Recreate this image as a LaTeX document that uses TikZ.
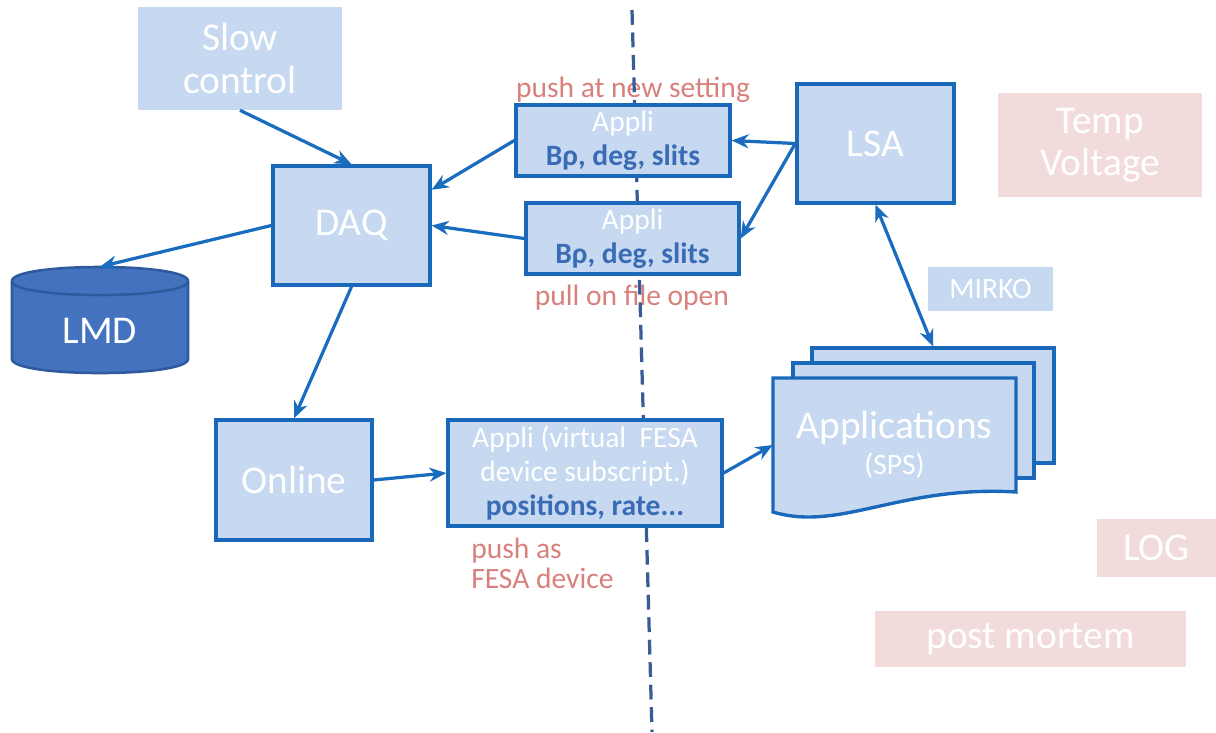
\documentclass[tikz,border=0pt]{standalone}
\usepackage{fontspec}
\setmainfont{Carlito}
\usepackage{tikz}
\usetikzlibrary{arrows.meta}

\definecolor{boxfill}{HTML}{C6D9F0}
\definecolor{boxline}{HTML}{1A68BA}
\definecolor{arrowblue}{HTML}{1A6CBF}
\definecolor{lmdfill}{HTML}{4373BF}
\definecolor{lmdline}{HTML}{2F5A9E}
\definecolor{boldblue}{HTML}{3A6BB5}
\definecolor{notered}{HTML}{D8807C}
\definecolor{pinkfill}{HTML}{F2DCDB}
\definecolor{divider}{HTML}{3A5C96}

\newcommand{\bigfont}{\fontsize{28}{30}\selectfont}
\newcommand{\smallfont}{\fontsize{21}{24.5}\selectfont}

\begin{document}
\begin{tikzpicture}[x=0.025cm, y=-0.025cm,
        box/.style={draw=boxline, line width=2.4pt, fill=boxfill, text=white, inner sep=0pt, align=center},
        plainbox/.style={fill=boxfill, text=white, inner sep=0pt, align=center},
        pinkbox/.style={fill=pinkfill, text=white, inner sep=0pt, align=center},
        note/.style={text=notered, inner sep=0pt, font=\smallfont},
        link/.style={draw=arrowblue, line width=2.3pt, -{Stealth[length=12pt, width=10pt]}}]
        \useasboundingbox (0,0) rectangle (1216,732);
        \node[note] (pushnew) at (633,90) {push at new setting};
        \node[note] (pullfile) at (632,298) {pull on file open};
        \node[note, align=left, anchor=west, font=\fontsize{21}{21.5}\selectfont] (pushfesa) at (471,563) {push as\\FESA device};
        \coordinate (divtop) at (632,10);
        \coordinate (divbot) at (652,732);
        \draw[divider, line width=2.3pt, dash pattern=on 10.5pt off 5.5pt] (divtop) -- (divbot);

        \node[plainbox, minimum width=5.1cm, minimum height=2.575cm, font=\bigfont] (slow) at (240,58.5) {Slow\\control};
        \node[box, minimum width=3.925cm, minimum height=2.975cm, font=\bigfont] (daq) at (351.5,225.5) {DAQ};
        \node[box, minimum width=3.9cm, minimum height=3cm, font=\bigfont] (online) at (294,480) {Online};
        \node[box, minimum width=5.35cm, minimum height=1.775cm, font=\smallfont] (applitop) at (623,140.5) {Appli\\\textcolor{boldblue}{\bfseries Bρ, deg, slits}};
        \node[box, minimum width=5.325cm, minimum height=1.775cm, font=\smallfont] (applibot) at (632.5,238.5) {Appli\\\textcolor{boldblue}{\bfseries Bρ, deg, slits}};
        \node[box, minimum width=6.85cm, minimum height=2.65cm, font=\smallfont] (applivirt) at (585,473) {Appli (virtual\ \ FESA\\device subscript.)\\\textcolor{boldblue}{\bfseries positions, rate...}};
        \node[box, minimum width=3.925cm, minimum height=2.975cm, font=\bigfont] (lsa) at (875.5,143.5) {LSA};
        \node[pinkbox, minimum width=5.1cm, minimum height=2.6cm, font=\bigfont] (temp) at (1100,145) {Temp\\Voltage};
        \node[plainbox, minimum width=3.125cm, minimum height=1.1cm, font=\smallfont] (mirko) at (990.5,289) {MIRKO};
        \node[pinkbox, minimum width=2.975cm, minimum height=1.45cm, font=\bigfont] (log) at (1156.5,548) {LOG};
        \node[pinkbox, minimum width=7.775cm, minimum height=1.4cm, font=\bigfont] (postmortem) at (1030.5,639) {post mortem};

        \path[fill=lmdfill, draw=lmdline, line width=1.8pt] (12,281) -- (12,359) .. controls (12,377.7) and (188,377.7) .. (188,359) -- (188,281) .. controls (188,262.3) and (12,262.3) .. cycle;
        \draw[lmdline, line width=1.8pt] (12,281) .. controls (12,299.7) and (188,299.7) .. (188,281);
        \node[minimum width=4.4cm, minimum height=3.2cm, inner sep=0pt, text=white, font=\bigfont] (lmd) at (100,331) {LMD};

        \node[box, minimum width=6.05cm, minimum height=2.875cm] (page3) at (933,405.5) {};
        \node[box, minimum width=6.025cm, minimum height=2.875cm] (page2) at (913.5,420.5) {};
        \draw[draw=boxline, line width=2.4pt, fill=boxfill] (773,378) -- (1016,378) -- (1016,492) .. controls (900,485) and (840,532) .. (773,512) -- cycle;
        \node[minimum width=6.075cm, minimum height=3.35cm, inner sep=0pt, text=white, align=center, font=\bigfont] (apps) at (894.5,445) {Applications\\[-4pt]{\smallfont (SPS)}};

        \draw[link] (slow.south) -- (daq.north);
        \draw[link] (applitop.west) -- (daq.24);
        \draw[link] (applibot.west) -- (daq.east);
        \draw[link] (daq.west) -- (lmd.north);
        \draw[link] (daq.south) -- (online.north);
        \draw[link] (online.east) -- (applivirt.west);
        \draw[link] (applivirt.east) -- (apps.west);
        \draw[link] (lsa.west) -- (applitop.east);
        \draw[link] (lsa.west) -- (applibot.east);
        \draw[link, {Stealth[length=12pt, width=10pt]}-{Stealth[length=12pt, width=10pt]}] (lsa.south) -- (page3.north);
\end{tikzpicture}
\end{document}
